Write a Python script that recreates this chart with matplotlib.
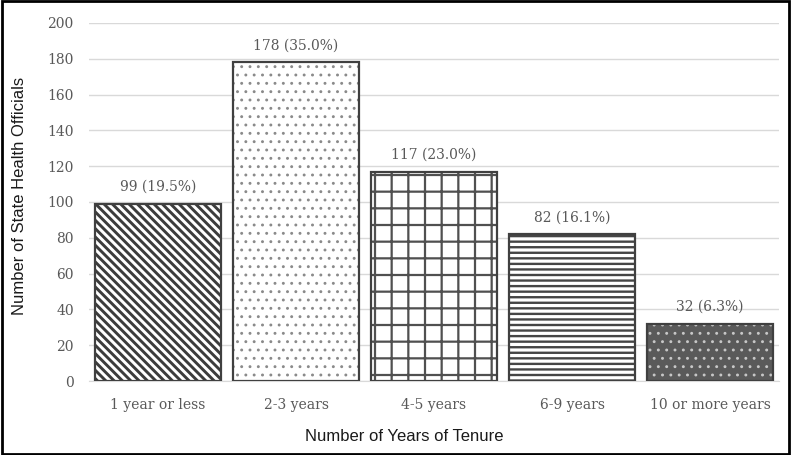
import matplotlib
matplotlib.use('Agg')
import matplotlib.pyplot as plt
from matplotlib.patches import Rectangle

categories = ['1 year or less', '2-3 years', '4-5 years', '6-9 years', '10 or more years']
counts = [99, 178, 117, 82, 32]
percents = [19.5, 35.0, 23.0, 16.1, 6.3]

# per-bar look: face, hatch, hatch colour, hatch width
faces = ['white', 'white', 'white', 'white', '#5a5a5a']
hatches = ['\\\\\\\\', '..', '+', '---', '..']
hatch_colors = ['#3c3c3c', '#8a8a8a', '#505050', '#454545', '#c8c8c8']
hatch_widths = [2.1, 0.9, 1.6, 1.7, 0.9]

edge = '#404040'
grey_text = '#595959'
W = 0.915

fig = plt.figure(figsize=(7.91, 4.55), dpi=100)
ax = fig.add_axes([0.1125, 0.1626, 0.8725, 0.787])

x = range(len(categories))
for i in x:
    ax.bar(i, counts[i], width=W, color=faces[i], edgecolor=edge, linewidth=0, zorder=2)
    with plt.rc_context({'hatch.linewidth': hatch_widths[i]}):
        bars = ax.bar(i, counts[i], width=W, color='none', edgecolor=hatch_colors[i],
                      hatch=hatches[i], linewidth=0, zorder=3)
    for p in bars:
        if hasattr(p, 'set_hatch_linewidth'):
            p.set_hatch_linewidth(hatch_widths[i])
    ax.bar(i, counts[i], width=W, color='none', edgecolor=edge, linewidth=1.6, zorder=4)
    ax.text(i, counts[i] + 5.5, '%d (%.1f%%)' % (counts[i], percents[i]), ha='center', va='bottom',
            fontsize=10, family='DejaVu Serif', color=grey_text)

ax.set_xlim(-0.5, 4.5)
ax.set_ylim(0, 200)
ax.set_yticks(range(0, 201, 20))
ax.set_xticks(list(x))
ax.set_xticklabels(categories)
ax.grid(axis='y', color='#d9d9d9', linewidth=1, zorder=0)
ax.set_axisbelow(True)
for s in ['top', 'right', 'left']:
    ax.spines[s].set_visible(False)
ax.spines['bottom'].set_color('#d9d9d9')
ax.tick_params(length=0, labelsize=10, labelcolor=grey_text)
ax.tick_params(axis='x', pad=12)
ax.tick_params(axis='y', pad=11)
for lbl in ax.get_xticklabels() + ax.get_yticklabels():
    lbl.set_family('DejaVu Serif')

ax.set_xlabel('Number of Years of Tenure', fontsize=12, family='Liberation Sans', color='#1a1a1a', va='center')
ax.set_ylabel('Number of State Health Officials', fontsize=12, family='Liberation Sans', color='#1a1a1a', va='center')
ax.xaxis.set_label_coords(0.457, -0.156)
ax.yaxis.set_label_coords(-0.101, 0.517)

fig.patches.append(Rectangle((0.002, 0.003), 0.996, 0.994, transform=fig.transFigure,
                             fill=False, edgecolor='black', linewidth=2))

fig.savefig('out.png', dpi=100)
